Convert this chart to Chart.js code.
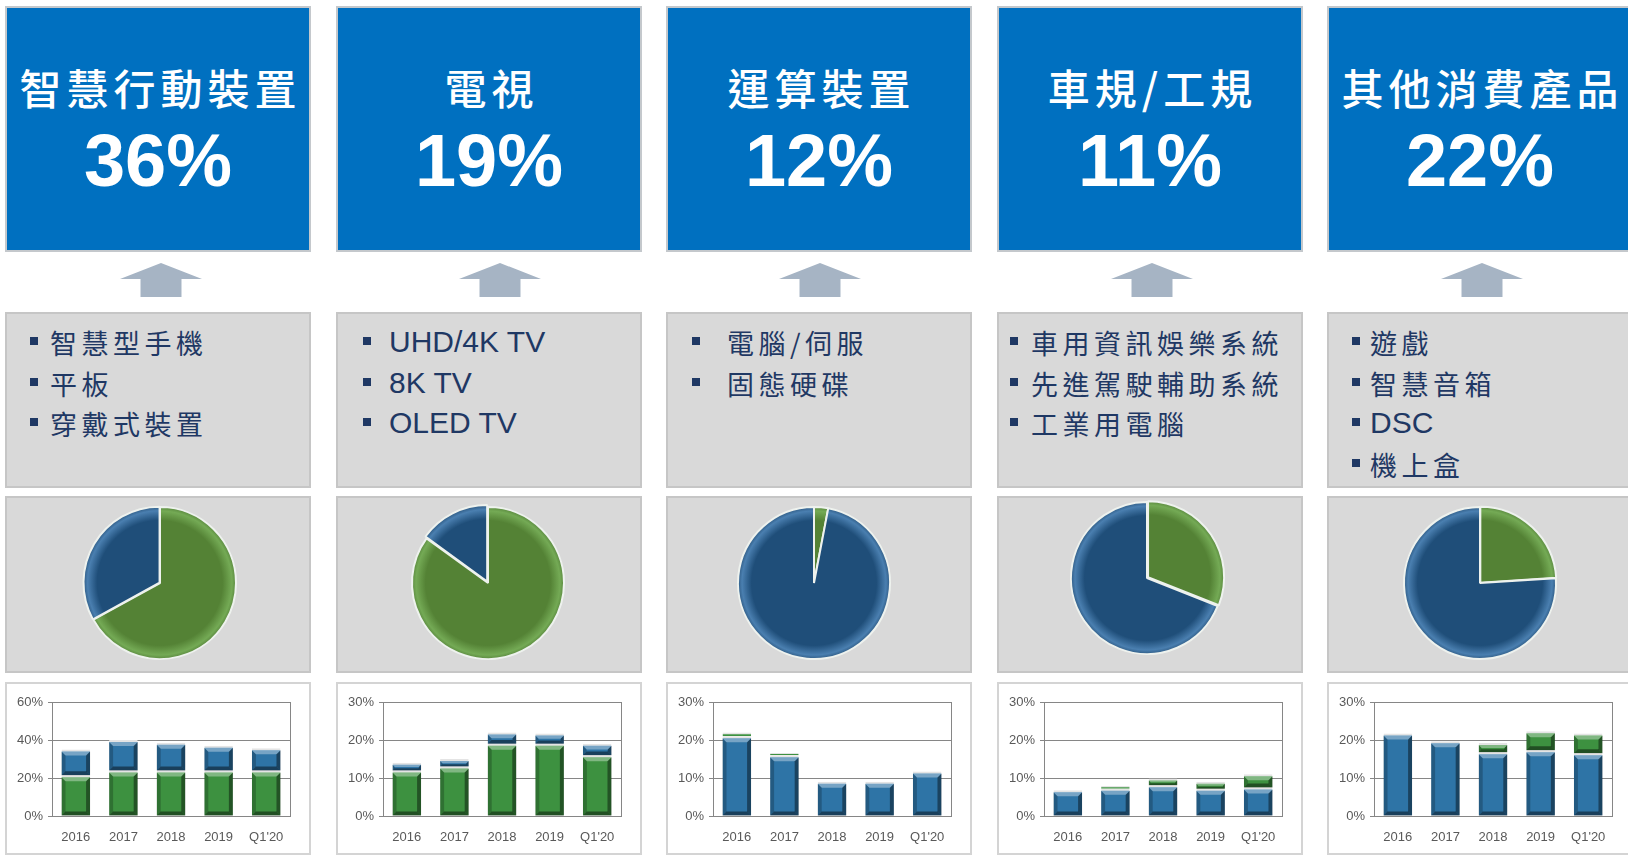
<!DOCTYPE html>
<html>
<head>
<meta charset="utf-8">
<script src="https://cdn.jsdelivr.net/npm/chart.js@4.4.1/dist/chart.umd.min.js"></script>
<style>
  html, body { margin:0; padding:0; background:#fff; }
  body { width:1628px; height:857px; overflow:hidden; position:relative; font-family:"Liberation Sans", Arial, sans-serif; }
  .abs { position:absolute; box-sizing:border-box; }
  .bluebox { background:#0070c0; border:2px solid #c4c8cc; }
  .title { color:#fff; font-family:"Noto Sans CJK TC", sans-serif; font-weight:500; font-size:42px; text-align:center; white-space:nowrap; }
  .share { color:#fff; font-family:"Liberation Sans", Arial, sans-serif; font-weight:700; font-size:74px; line-height:74px; text-align:center; }
  .arrow { background:#a6b4c4; clip-path:polygon(50% 0%, 100% 47%, 75% 47%, 75% 100%, 25% 100%, 25% 47%, 0% 47%); }
  .graybox { background:#d9d9d9; border:2px solid #c6c6c6; }
  .whitebox { background:#fff; border:2px solid #d4d4d4; }
  .bullet { width:8px; height:8px; background:#1f3864; }
  .item { color:#1f3864; white-space:nowrap; height:40px; line-height:40px; }
  .cjk { font-family:"Noto Sans CJK TC", sans-serif; font-size:27px; letter-spacing:4.5px; }
  .lat { font-family:"Liberation Sans", Arial, sans-serif; font-size:30px; }
</style>
</head>
<body>
<script>
// ---------------- data ----------------
const categories = ['2016', '2017', '2018', '2019', "Q1'20"];
const titles = ['智慧行動裝置', '電視', '運算裝置', '車規/工規', '其他消費產品'];
const shares = ['36%', '19%', '12%', '11%', '22%'];
const items1 = ['智慧型手機', '平板', '穿戴式裝置'];
const items2 = ['UHD/4K TV', '8K TV', 'OLED TV'];
const items3 = ['電腦/伺服', '固態硬碟'];
const items4 = ['車用資訊娛樂系統', '先進駕駛輔助系統', '工業用電腦'];
const items5 = ['遊戲', '智慧音箱', 'DSC', '機上盒'];

// bar series (percent of revenue)
const mobileGreen = [21.5, 24, 24, 24, 24];
const mobileBlue  = [13.5, 16, 14.6, 13, 11.7];
const tvGreen     = [12, 13, 19, 19, 16];
const tvBlue      = [2, 2, 3, 2.7, 3];
const computeBlue = [21, 16, 9, 9, 11.7];
const computeGreen= [1, 0.6, 0, 0, 0];
const autoBlue    = [6.8, 7.2, 8.1, 7.2, 7.5];
const autoGreen   = [0, 0.7, 1.8, 1.8, 3.5];
const otherBlue   = [21.7, 19.7, 16.8, 17.3, 16.5];
const otherGreen  = [0, 0, 2.4, 5, 5.2];

// y axis ranges (tick labels 0%..max%)
const yMax  = [60, 30, 30, 30, 30];
const yStep = [20, 10, 10, 10, 10];

// pie shares [green, blue]
const pieGreen = [67, 85, 3, 31, 24];
const pieBlue  = [33, 15, 97, 69, 76];

// ---------------- layout / style ----------------
const colLeft = [5, 336, 666, 997, 1327];
const colW = 306;
const arrowCenter = [161, 500, 820, 1152, 1482];
const pieCenter = [[160, 583], [488, 583], [814, 583], [1147, 578], [1480, 583]];
const bulletOff = [25, 27, 26, 13, 25];
const textOff = [45, 53, 61, 34, 43];
const GREEN = '#3d9140', BLUE = '#2e74a6';

function el(cls, style, text) {
  const d = document.createElement('div');
  d.className = 'abs ' + cls;
  Object.assign(d.style, style);
  if (text !== undefined) d.textContent = text;
  document.body.appendChild(d);
  return d;
}
const px = v => v + 'px';
const itemLists = [items1, items2, items3, items4, items5];

for (let i = 0; i < 5; i++) {
  const L = colLeft[i];
  el('bluebox', {left:px(L), top:'6px', width:px(colW), height:'246px'});
  el('title', {left:px(L), top:'64px', width:px(colW), height:'46px', lineHeight:'46px', letterSpacing:'5px', paddingLeft:'5px'}, titles[i]);
  el('share', {left:px(L), top:'124px', width:px(colW), height:'74px'}, shares[i]);
  el('arrow', {left:px(arrowCenter[i]-41), top:'263px', width:'82px', height:'34px'});
  el('graybox', {left:px(L), top:'312px', width:px(colW), height:'176px'});
  itemLists[i].forEach((t, k) => {
    const cy = 342 + k * 40.7;
    el('bullet', {left:px(L + bulletOff[i]), top:px(cy - 5)});
    const isLat = /^[A-Za-z0-9]/.test(t);
    el('item ' + (isLat ? 'lat' : 'cjk'), {left:px(L + textOff[i]), top:px(cy - 20 + (isLat ? 0 : 1))}, t);
  });
  el('graybox', {left:px(L), top:'496px', width:px(colW), height:'177px'});
  el('whitebox', {left:px(L), top:'682px', width:px(colW), height:'173px'});
}

// ---------------- charts ----------------
Chart.defaults.font.family = '"Liberation Sans", Arial, sans-serif';
Chart.defaults.animation = false;

function poly(ctx, pts, fill) {
  ctx.beginPath();
  ctx.moveTo(pts[0][0], pts[0][1]);
  for (let k = 1; k < pts.length; k++) ctx.lineTo(pts[k][0], pts[k][1]);
  ctx.closePath();
  ctx.fillStyle = fill;
  ctx.fill();
}
const bevel = {
  id: 'bevel',
  afterDatasetsDraw(chart) {
    const ctx = chart.ctx;
    ctx.save();
    chart.data.datasets.forEach((ds, i) => {
      chart.getDatasetMeta(i).data.forEach(e => {
        const {x, y, base, width} = e.getProps(['x', 'y', 'base', 'width'], true);
        let top = Math.min(y, base) + 2, bottom = Math.max(y, base);
        const l = x - width / 2, r = x + width / 2;
        const h = bottom - top;
        if (h < 3) return;
        const b = Math.min(4, h / 2.5);
        poly(ctx, [[l, top], [l + b, top + b], [l + b, bottom - b], [l, bottom]], 'rgba(0,0,0,0.22)');
        poly(ctx, [[r, top], [r - b, top + b], [r - b, bottom - b], [r, bottom]], 'rgba(0,0,0,0.42)');
        poly(ctx, [[l, bottom], [l + b, bottom - b], [r - b, bottom - b], [r, bottom]], 'rgba(0,0,0,0.45)');
        poly(ctx, [[l, top], [r, top], [r - b, top + b], [l + b, top + b]], 'rgba(255,255,255,0.35)');
      });
    });
    ctx.restore();
  }
};
const plotBorder = {
  id: 'plotBorder',
  beforeDatasetsDraw(chart) {
    const a = chart.chartArea, ctx = chart.ctx;
    ctx.save();
    ctx.strokeStyle = '#868686';
    ctx.lineWidth = 1;
    ctx.strokeRect(Math.round(a.left) + 0.5, Math.round(a.top) + 0.5, Math.round(a.right - a.left), Math.round(a.bottom - a.top));
    ctx.restore();
  }
};

const barDefs = [
  [[mobileGreen, GREEN], [mobileBlue, BLUE]],
  [[tvGreen, GREEN], [tvBlue, BLUE]],
  [[computeBlue, BLUE], [computeGreen, GREEN]],
  [[autoBlue, BLUE], [autoGreen, GREEN]],
  [[otherBlue, BLUE], [otherGreen, GREEN]]
];

function addCanvas(left, top, w, h) {
  const wrap = document.createElement('div');
  wrap.className = 'abs';
  Object.assign(wrap.style, {left:px(left), top:px(top), width:px(w), height:px(h)});
  const c = document.createElement('canvas');
  wrap.appendChild(c);
  document.body.appendChild(wrap);
  return c;
}

for (let i = 0; i < 5; i++) {
  const c = addCanvas(colLeft[i], 682, colW, 173);
  new Chart(c, {
    type: 'bar',
    data: {
      labels: categories,
      datasets: barDefs[i].map(([vals, col]) => ({
        data: vals,
        backgroundColor: col,
        borderColor: '#e4e4e4',
        borderWidth: {top: 2, left: 0, right: 0, bottom: 0},
        borderSkipped: false,
        barPercentage: 0.6,
        categoryPercentage: 1
      }))
    },
    options: {
      responsive: true,
      maintainAspectRatio: false,
      layout: {padding: {top: 20, right: 21, left: 0, bottom: 0}},
      plugins: {legend: {display: false}, tooltip: {enabled: false}},
      scales: {
        x: {
          stacked: true,
          grid: {display: false, drawTicks: false},
          border: {display: true, color: '#868686'},
          ticks: {color: '#595959', font: {size: 13}, padding: 14},
          afterFit: s => { s.height = 39; }
        },
        y: {
          stacked: true,
          min: 0, max: yMax[i],
          ticks: {stepSize: yStep[i], color: '#595959', font: {size: 13}, padding: 5, callback: v => v + '%'},
          grid: {color: '#868686', tickLength: 4},
          border: {color: '#868686'},
          afterFit: s => { s.width = 47; }
        }
      }
    },
    plugins: [plotBorder, bevel]
  });
}

// pie shading: [base, rim light, rim dark] for green (index 0) and blue (index 1)
const pieShades = [['#548235', '#74aa55', '#42692a'], ['#1f4e79', '#4a7fb0', '#163a5c']];
function pieFill(ctx) {
  const [base, light, dark] = pieShades[ctx.dataIndex] || pieShades[1];
  const ch = ctx.chart, a = ch.chartArea;
  if (!a) return base;
  const cx = (a.left + a.right) / 2, cy = (a.top + a.bottom) / 2;
  const g = ch.ctx.createRadialGradient(cx, cy, 0, cx, cy, 80);
  g.addColorStop(0, base);
  g.addColorStop(0.78, base);
  g.addColorStop(0.9, light);
  g.addColorStop(1, dark);
  return g;
}
const pieOffsets = [[0, 2], [0, 7], [0, 0], [5, 0], [2, 0]];
for (let i = 0; i < 5; i++) {
  const [cx, cy] = pieCenter[i];
  const c = addCanvas(cx - 95, cy - 88, 190, 176);
  new Chart(c, {
    type: 'pie',
    data: {
      labels: ['green', 'blue'],
      datasets: [{
        data: [pieGreen[i], pieBlue[i]],
        backgroundColor: pieFill,
        borderColor: '#eef2ee',
        borderWidth: 2,
        offset: pieOffsets[i]
      }]
    },
    options: {
      responsive: true,
      maintainAspectRatio: false,
      radius: 76,
      plugins: {legend: {display: false}, tooltip: {enabled: false}}
    }
  });
}
</script>
</body>
</html>
